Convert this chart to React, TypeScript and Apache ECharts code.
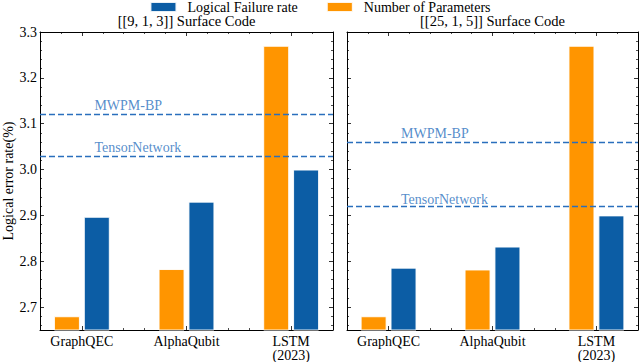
import React, { useEffect, useRef } from "react";
import * as echarts from "echarts";

const categories = ["GraphQEC", "AlphaQubit", "LSTM\n(2023)"];
const panelTitles = ["[[9, 1, 3]] Surface Code", "[[25, 1, 5]] Surface Code"];
const paramsD3 = [2.68, 2.783, 3.27];
const failureD3 = [2.897, 2.93, 3.0];
const paramsD5 = [2.68, 2.782, 3.27];
const failureD5 = [2.786, 2.832, 2.9];
const mwpmValues = [3.119, 3.06];
const tensorValues = [3.029, 2.916];
const yTickLabels = [2.7, 2.8, 2.9, 3.0, 3.1, 3.2, 3.3];
const xPositions = [0, 1, 2];

const BLUE = "#0C5DA5";
const ORANGE = "#FF9500";
const LINE_BLUE = "#2a6fbd";
const FONT = "'Liberation Serif', 'DejaVu Serif', serif";

const Y_MIN = 2.65;
const Y_MAX = 3.3;
const X_MIN = -0.4;
const X_MAX = 2.4;

const yMinor: number[] = [];
for (let i = 0; i <= 32; i++) {
  const v = Math.round((2.66 + i * 0.02) * 1000) / 1000;
  if (Math.abs(v * 10 - Math.round(v * 10)) > 1e-6 && v < Y_MAX) yMinor.push(v);
}
const xMinor: number[] = [];
for (let i = -1; i <= 11; i++) {
  const v = Math.round(i * 0.2 * 1000) / 1000;
  if (Math.abs(v - Math.round(v)) > 1e-6 && v > X_MIN && v < X_MAX) xMinor.push(v);
}

const grids = [
  { left: 40, right: 307, top: 32, bottom: 32 },
  { left: 347, right: 2, top: 32, bottom: 32 },
];

function xAxesFor(g: number) {
  const common = {
    gridIndex: g,
    type: "value",
    min: X_MIN,
    max: X_MAX,
    splitLine: { show: false },
  };
  return [
    {
      ...common,
      position: "bottom",
      axisLine: { show: true, onZero: false, lineStyle: { color: "#000", width: 1 } },
      axisTick: { show: true, inside: true, length: 4, customValues: xPositions, lineStyle: { color: "#000", width: 0.8 } },
      axisLabel: {
        show: true,
        customValues: xPositions,
        margin: 4,
        color: "#000",
        fontFamily: FONT,
        fontSize: 14,
        lineHeight: 14,
        formatter: (v: number) => categories[Math.round(v)] ?? "",
      },
    },
    {
      ...common,
      position: "bottom",
      axisLine: { show: false, onZero: false },
      axisTick: { show: true, inside: true, length: 2, customValues: xMinor, lineStyle: { color: "#000", width: 0.7 } },
      axisLabel: { show: false },
    },
    {
      ...common,
      position: "top",
      axisLine: { show: true, onZero: false, lineStyle: { color: "#000", width: 1 } },
      axisTick: { show: true, inside: true, length: 4, customValues: xPositions, lineStyle: { color: "#000", width: 0.8 } },
      axisLabel: { show: false },
    },
    {
      ...common,
      position: "top",
      axisLine: { show: false, onZero: false },
      axisTick: { show: true, inside: true, length: 2, customValues: xMinor, lineStyle: { color: "#000", width: 0.7 } },
      axisLabel: { show: false },
    },
  ];
}

function yAxesFor(g: number) {
  const common = {
    gridIndex: g,
    type: "value",
    min: Y_MIN,
    max: Y_MAX,
    splitLine: { show: false },
  };
  return [
    {
      ...common,
      position: "left",
      name: g === 0 ? "Logical error rate(%)" : "",
      nameLocation: "middle",
      nameGap: 21,
      nameRotate: 90,
      nameTextStyle: { color: "#000", fontFamily: FONT, fontSize: 14 },
      axisLine: { show: true, onZero: false, lineStyle: { color: "#000", width: 1 } },
      axisTick: { show: true, inside: true, length: 4, customValues: yTickLabels, lineStyle: { color: "#000", width: 0.8 } },
      axisLabel: {
        show: g === 0,
        customValues: yTickLabels,
        margin: 3,
        color: "#000",
        fontFamily: FONT,
        fontSize: 14,
        formatter: (v: number) => v.toFixed(1),
      },
    },
    {
      ...common,
      position: "left",
      axisLine: { show: false, onZero: false },
      axisTick: { show: true, inside: true, length: 2, customValues: yMinor, lineStyle: { color: "#000", width: 0.7 } },
      axisLabel: { show: false },
    },
    {
      ...common,
      position: "right",
      axisLine: { show: true, onZero: false, lineStyle: { color: "#000", width: 1 } },
      axisTick: { show: true, inside: true, length: 4, customValues: yTickLabels, lineStyle: { color: "#000", width: 0.8 } },
      axisLabel: { show: false },
    },
    {
      ...common,
      position: "right",
      axisLine: { show: false, onZero: false },
      axisTick: { show: true, inside: true, length: 2, customValues: yMinor, lineStyle: { color: "#000", width: 0.7 } },
      axisLabel: { show: false },
    },
  ];
}

function seriesFor(g: number, params: number[], failure: number[], mwpm: number, tensor: number) {
  const xi = g * 4;
  const yi = g * 4;
  const barCommon = {
    type: "bar",
    xAxisIndex: xi,
    yAxisIndex: yi,
    barWidth: 26,
    barGap: "15%",
    clip: true,
  };
  const labelSeries = (name: string, value: number) => ({
    type: "scatter",
    name: name + "-label-" + g,
    xAxisIndex: xi,
    yAxisIndex: yi,
    symbolSize: 0,
    silent: true,
    data: [[0.12, value]],
    label: {
      show: true,
      position: "top",
      align: "left",
      distance: 2,
      formatter: name,
      color: LINE_BLUE,
      fontFamily: FONT,
      fontSize: 14,
    },
    z: 5,
  });
  return [
    {
      ...barCommon,
      name: "Number of Parameters",
      itemStyle: { color: ORANGE, borderColor: "rgba(255,255,255,0.9)", borderWidth: 1 },
      data: params.map((v, i) => [xPositions[i], v]),
    },
    {
      ...barCommon,
      name: "Logical Failure rate",
      itemStyle: { color: BLUE, borderColor: "rgba(255,255,255,0.9)", borderWidth: 1 },
      data: failure.map((v, i) => [xPositions[i], v]),
      markLine: {
        silent: true,
        symbol: "none",
        label: { show: false },
        lineStyle: { color: LINE_BLUE, type: [6, 3], width: 1.4 },
        data: [{ yAxis: mwpm }, { yAxis: tensor }],
      },
    },
    labelSeries("MWPM-BP", mwpm),
    labelSeries("TensorNetwork", tensor),
  ];
}

export default function App() {
  const ref = useRef<HTMLDivElement>(null);
  useEffect(() => {
    if (!ref.current) return;
    const chart = echarts.init(ref.current, null, { renderer: "svg" });
    const option: any = {
      animation: false,
      backgroundColor: "#fff",
      textStyle: { fontFamily: FONT },
      legend: {
        data: ["Logical Failure rate", "Number of Parameters"],
        left: "center",
        top: 0,
        padding: 0,
        icon: "rect",
        itemWidth: 26,
        itemHeight: 10,
        itemGap: 28,
        textStyle: { color: "#000", fontFamily: FONT, fontSize: 14, lineHeight: 12, padding: [0, 0, 0, 6] },
        selectedMode: false,
      },
      graphic: [
        {
          type: "text",
          x: 186.5,
          y: 21,
          style: { text: panelTitles[0], textAlign: "center", textVerticalAlign: "middle", fill: "#000", font: `14.5px ${FONT}` },
        },
        {
          type: "text",
          x: 492.5,
          y: 21,
          style: { text: panelTitles[1], textAlign: "center", textVerticalAlign: "middle", fill: "#000", font: `14.5px ${FONT}` },
        },
      ],
      grid: grids.map((g) => ({ ...g, containLabel: false, outerBoundsMode: "none" })),
      xAxis: [...xAxesFor(0), ...xAxesFor(1)],
      yAxis: [...yAxesFor(0), ...yAxesFor(1)],
      series: [
        ...seriesFor(0, paramsD3, failureD3, mwpmValues[0], tensorValues[0]),
        ...seriesFor(1, paramsD5, failureD5, mwpmValues[1], tensorValues[1]),
      ],
    };
    chart.setOption(option);
    return () => chart.dispose();
  }, []);
  return (
    <div
      ref={ref}
      style={{ position: "fixed", left: 0, top: 0, width: 640, height: 362 }}
    />
  );
}
